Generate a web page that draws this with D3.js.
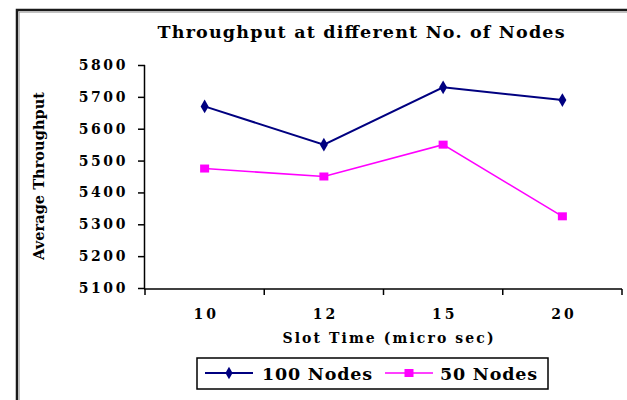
<!DOCTYPE html>
<html>
<head>
<meta charset="utf-8">
<script src="https://cdn.jsdelivr.net/npm/d3@7/dist/d3.min.js"></script>
<style>
  html, body { margin: 0; padding: 0; background: #fff; }
  svg { display: block; }
  text { font-family: "DejaVu Serif", "Liberation Serif", serif; font-weight: bold; fill: #000; }
</style>
</head>
<body>
<svg id="chart" width="627" height="400"></svg>
<script>
// Slot time categories (micro sec) and average throughput per node count
const slotTimes = ["10", "12", "15", "20"];
const nodes100 = [5670, 5550, 5730, 5690];
const nodes50 = [5475, 5450, 5550, 5325];
const yTicks = [5100, 5200, 5300, 5400, 5500, 5600, 5700, 5800];
const seriesNames = ["100 Nodes", "50 Nodes"];
const seriesColors = ["#000080", "#FF00FF"];

const FONT = "DejaVu Serif, Liberation Serif, serif";
const svg = d3.select("#chart");

// chart frame (runs past the right and bottom edges)
svg.append("rect")
  .attr("x", 17).attr("y", 10)
  .attr("width", 700).attr("height", 500)
  .attr("fill", "none").attr("stroke", "#1a1a1a").attr("stroke-width", 2.5);
svg.append("rect")
  .attr("x", 19.2).attr("y", 12.2)
  .attr("width", 700).attr("height", 500)
  .attr("fill", "none").attr("stroke", "#9a9a9a").attr("stroke-width", 0.8);

const plot = { left: 145, right: 622, top: 65, bottom: 288 };

const x = d3.scaleBand().domain(slotTimes).range([plot.left, plot.right]).padding(0);
const y = d3.scaleLinear().domain([5100, 5800]).range([plot.bottom, plot.top]);

// title
svg.append("text")
  .attr("x", 361).attr("y", 38)
  .attr("text-anchor", "middle")
  .attr("font-size", 17.5)
  .attr("textLength", 407).attr("lengthAdjust", "spacing")
  .text("Throughput at different No. of Nodes");

// y axis
const yAxis = svg.append("g")
  .attr("transform", `translate(${plot.left},0)`)
  .call(d3.axisLeft(y).tickValues(yTicks).tickSize(7).tickPadding(10).tickFormat(d3.format("d")));
yAxis.select(".domain").attr("stroke", "#000").attr("stroke-width", 1.5).attr("d", `M-0.5,${plot.top}V${plot.bottom + 1}`);
yAxis.selectAll(".tick line").attr("stroke", "#000").attr("stroke-width", 1.5);
yAxis.selectAll(".tick text")
  .attr("font-size", 14).attr("font-family", FONT).attr("font-weight", "bold")
  .attr("letter-spacing", 2.6).attr("fill", "#000");

// x axis: labels centred in each category, tick marks on category boundaries
const xAxis = svg.append("g")
  .attr("transform", `translate(0,${plot.bottom + 1})`)
  .call(d3.axisBottom(x).tickSize(0).tickPadding(20));
xAxis.select(".domain").remove();
xAxis.append("line")
  .attr("x1", plot.left - 1).attr("x2", plot.right)
  .attr("stroke", "#000").attr("stroke-width", 1.5);
const bounds = [plot.left].concat(slotTimes.map(d => x(d) + x.bandwidth()));
xAxis.selectAll(".bound")
  .data(bounds).enter().append("line")
  .attr("class", "bound")
  .attr("x1", d => d).attr("x2", d => d)
  .attr("y1", 0).attr("y2", 6)
  .attr("stroke", "#000").attr("stroke-width", 1.5);
xAxis.selectAll(".tick text")
  .attr("font-size", 14).attr("font-family", FONT).attr("font-weight", "bold")
  .attr("letter-spacing", 3).attr("fill", "#000")
  .attr("dx", 1.5);

// axis titles
svg.append("text")
  .attr("x", 388).attr("y", 343)
  .attr("text-anchor", "middle")
  .attr("font-size", 14)
  .attr("textLength", 211).attr("lengthAdjust", "spacing")
  .text("Slot Time (micro sec)");

svg.append("text")
  .attr("transform", "translate(44,176) rotate(-90)")
  .attr("text-anchor", "middle")
  .attr("font-size", 14.5)
  .attr("textLength", 168).attr("lengthAdjust", "spacing")
  .text("Average Throughput");

// series lines and markers
const cx = d => x(d) + x.bandwidth() / 2;
const line = d3.line().x(d => cx(d[0])).y(d => y(d[1]));
const series = [nodes100, nodes50];

series.forEach((vals, i) => {
  const pts = slotTimes.map((s, j) => [s, vals[j]]);
  svg.append("path")
    .attr("d", line(pts))
    .attr("fill", "none")
    .attr("stroke", seriesColors[i])
    .attr("stroke-width", i === 0 ? 2 : 1.6);
  const g = svg.append("g");
  if (i === 0) {
    g.selectAll("path").data(pts).enter().append("path")
      .attr("d", d3.symbol().type(d3.symbolDiamond).size(55))
      .attr("transform", d => `translate(${cx(d[0])},${y(d[1])})`)
      .attr("fill", seriesColors[i]);
  } else {
    g.selectAll("rect").data(pts).enter().append("rect")
      .attr("x", d => cx(d[0]) - 4.5).attr("y", d => y(d[1]) - 4)
      .attr("width", 9).attr("height", 8)
      .attr("fill", seriesColors[i]);
  }
});

// legend
const legend = svg.append("g");
legend.append("rect")
  .attr("x", 197).attr("y", 358).attr("width", 351).attr("height", 31)
  .attr("fill", "#fff").attr("stroke", "#000").attr("stroke-width", 1.5);

const legendItems = [
  { x0: 205, x1: 253, tx: 262, tw: 110 },
  { x0: 385, x1: 433, tx: 440, tw: 97 }
];
legendItems.forEach((it, i) => {
  legend.append("line")
    .attr("x1", it.x0).attr("x2", it.x1).attr("y1", 373).attr("y2", 373)
    .attr("stroke", seriesColors[i]).attr("stroke-width", i === 0 ? 2 : 1.6);
  const mx = (it.x0 + it.x1) / 2;
  if (i === 0) {
    legend.append("path")
      .attr("d", d3.symbol().type(d3.symbolDiamond).size(45))
      .attr("transform", `translate(${mx},373)`)
      .attr("fill", seriesColors[i]);
  } else {
    legend.append("rect")
      .attr("x", mx - 4.5).attr("y", 369).attr("width", 9).attr("height", 8)
      .attr("fill", seriesColors[i]);
  }
  legend.append("text")
    .attr("x", it.tx).attr("y", 380)
    .attr("font-size", 17.5)
    .attr("textLength", it.tw).attr("lengthAdjust", "spacing")
    .text(seriesNames[i]);
});
</script>
</body>
</html>
